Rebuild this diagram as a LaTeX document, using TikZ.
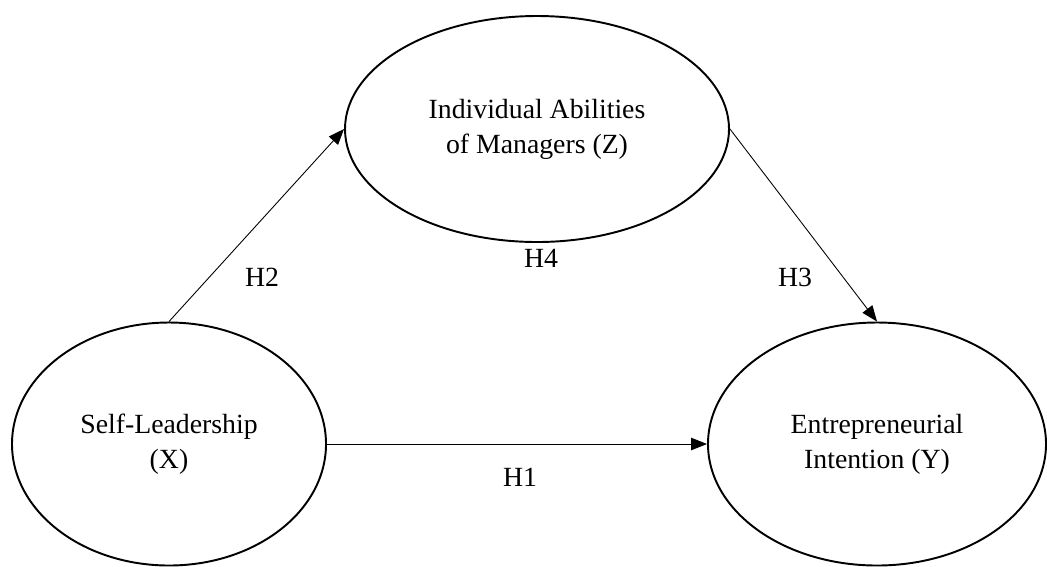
\documentclass[tikz,border=0pt]{standalone}
\usepackage{fontspec}
\setmainfont{Liberation Serif}
\usetikzlibrary{shapes.geometric,arrows.meta}

\tikzset{
  construct/.style={draw, ellipse, line width=1.1pt, inner sep=0pt, align=center, font=\fontsize{15.8}{20}\selectfont},
  path/.style={line width=0.5pt, -{Triangle[length=9pt, width=7pt]}},
  hyp/.style={font=\fontsize{15.8}{18}\selectfont}
}

\begin{document}
\begin{tikzpicture}[x=0.02cm, y=-0.02cm]
  \useasboundingbox (0, 0) rectangle (1047, 566);

  \node[construct, minimum width=314*0.02cm, minimum height=243*0.02cm] (sl) at (169, 444) {Self-Leadership\\(X)};
  \node[construct, minimum width=384*0.02cm, minimum height=226*0.02cm] (iam) at (537, 129) {Individual Abilities\\of Managers (Z)};
  \node[construct, minimum width=338*0.02cm, minimum height=243*0.02cm] (ei) at (877, 444) {Entrepreneurial\\Intention (Y)};

  \draw[path] (sl.north) -- (iam.west);
  \draw[path] (iam.east) -- (ei.north);
  \draw[path] (sl.east) -- (ei.west);

  \node[hyp] (h1) at (520, 477) {H1};
  \node[hyp] (h2) at (262, 277) {H2};
  \node[hyp] (h3) at (795, 277) {H3};
  \node[hyp] (h4) at (541, 258) {H4};
\end{tikzpicture}
\end{document}
